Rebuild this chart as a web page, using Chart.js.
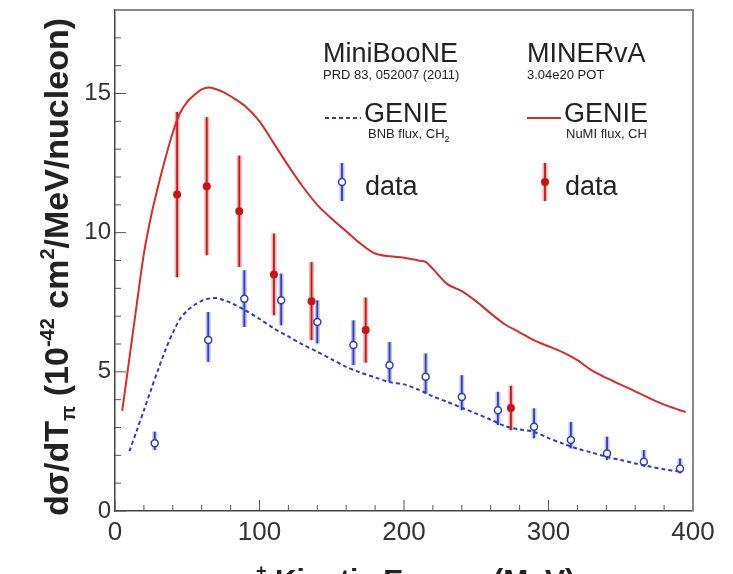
<!DOCTYPE html>
<html>
<head>
<meta charset="utf-8">
<script src="https://cdn.jsdelivr.net/npm/chart.js@4.4.0/dist/chart.umd.min.js"></script>
<style>
  html, body { margin: 0; padding: 0; background: #fff; }
  #wrap { width: 733px; height: 574px; }
</style>
</head>
<body>
<div id="wrap"><canvas id="chart"></canvas></div>
<script>
// GENIE prediction, NuMI flux on CH (MINERvA) - solid red
var minervaGenieE  = [5, 10, 15, 20, 25, 30, 35, 40, 45, 50, 55, 60, 65, 70, 75, 80, 90, 100, 110, 120, 130, 140, 150, 160, 170, 180, 190, 200, 210, 215, 220, 230, 240, 250, 260, 270, 280, 290, 300, 310, 320, 330, 340, 350, 360, 370, 380, 390, 395];
var minervaGenieXs = [3.6, 5.5, 7.4, 9.25, 10.6, 11.7, 12.7, 13.6, 14.3, 14.7, 14.95, 15.15, 15.22, 15.15, 15.05, 14.9, 14.55, 14.0, 13.2, 12.4, 11.65, 11.0, 10.5, 10.05, 9.6, 9.25, 9.15, 9.1, 9.0, 8.95, 8.7, 8.15, 7.9, 7.53, 7.1, 6.7, 6.42, 6.13, 5.92, 5.7, 5.42, 5.05, 4.78, 4.54, 4.3, 4.05, 3.82, 3.64, 3.56];

// GENIE prediction, BNB flux on CH2 (MiniBooNE) - dashed blue
var miniboonGenieE  = [10, 15, 20, 25, 30, 35, 40, 45, 50, 55, 60, 65, 70, 75, 80, 90, 100, 110, 120, 130, 140, 150, 160, 170, 180, 190, 200, 210, 220, 230, 240, 250, 260, 270, 280, 290, 300, 310, 320, 330, 340, 350, 360, 370, 380, 390];
var miniboonGenieXs = [2.15, 2.88, 3.62, 4.37, 5.1, 5.8, 6.4, 6.9, 7.2, 7.4, 7.55, 7.63, 7.65, 7.58, 7.48, 7.22, 6.9, 6.56, 6.27, 5.98, 5.72, 5.45, 5.18, 4.97, 4.8, 4.63, 4.55, 4.36, 4.12, 3.92, 3.71, 3.5, 3.28, 3.05, 2.93, 2.84, 2.62, 2.42, 2.24, 2.1, 1.95, 1.83, 1.71, 1.6, 1.5, 1.42];

// MINERvA data
var minervaE   = [43, 63.5, 86, 110, 136, 173.5, 274];
var minervaXs  = [11.37, 11.67, 10.77, 8.5, 7.54, 6.5, 3.7];
var minervaErr = [2.97, 2.48, 2.0, 1.47, 1.4, 1.17, 0.8];

// MiniBooNE data
var miniboonE     = [27.5, 64.5, 89.5, 115, 140, 165, 190, 215, 240, 265, 290, 315.5, 340.5, 366, 391];
var miniboonXs    = [2.43, 6.14, 7.63, 7.57, 6.79, 5.96, 5.24, 4.82, 4.1, 3.62, 3.03, 2.55, 2.07, 1.77, 1.53];
var miniboonErrUp = [0.42, 1.01, 1.02, 0.96, 0.78, 0.89, 0.83, 0.84, 0.78, 0.66, 0.66, 0.65, 0.6, 0.42, 0.36];
var miniboonErrDn = [0.24, 0.78, 1.02, 0.9, 0.77, 0.72, 0.6, 0.6, 0.48, 0.53, 0.42, 0.3, 0.24, 0.18, 0.18];

var xTicks = [0, 100, 200, 300, 400];
var yTicks = [0, 5, 10, 15];

var FONT = "'Liberation Sans', Arial, Helvetica, sans-serif";
var RED = 'rgb(214,44,44)';
var BLUE = 'rgb(52,60,175)';

function pts(xs, ys) {
    return xs.map(function (x, i) { return { x: x, y: ys[i] }; });
}

// vertical error bar, wide pale band + thin dark core
function errBar(ctx, x, yTop, yBot, band, core) {
    ctx.save();
    ctx.lineCap = 'butt';
    ctx.strokeStyle = band;
    ctx.lineWidth = 5;
    ctx.beginPath(); ctx.moveTo(x, yTop); ctx.lineTo(x, yBot); ctx.stroke();
    ctx.strokeStyle = core;
    ctx.lineWidth = 1.8;
    ctx.beginPath(); ctx.moveTo(x, yTop); ctx.lineTo(x, yBot); ctx.stroke();
    ctx.restore();
}

// draws text pieces one after another, small ones raised/lowered
function richText(ctx, parts, size, weight) {
    var w = 0;
    parts.forEach(function (p) {
        ctx.font = weight + ' ' + Math.round(size * (p.s || 1)) + 'px ' + FONT;
        p.w = ctx.measureText(p.t).width;
        w += p.w;
    });
    return {
        width: w,
        draw: function (x0, y0) {
            var x = x0;
            parts.forEach(function (p) {
                ctx.font = weight + ' ' + Math.round(size * (p.s || 1)) + 'px ' + FONT;
                ctx.fillText(p.t, x, y0 + (p.dy || 0) * size);
                x += p.w;
            });
        }
    };
}

var errorBars = {
    id: 'errorBars',
    beforeDatasetDraw: function (chart, args) {
        var ctx = chart.ctx, sx = chart.scales.x, sy = chart.scales.y;
        ctx.save();
        ctx.beginPath();
        ctx.rect(chart.chartArea.left, chart.chartArea.top, chart.chartArea.width, chart.chartArea.height);
        ctx.clip();
        if (args.index === 2) {
            miniboonE.forEach(function (e, i) {
                errBar(ctx, sx.getPixelForValue(e),
                    sy.getPixelForValue(miniboonXs[i] + miniboonErrUp[i]),
                    sy.getPixelForValue(miniboonXs[i] - miniboonErrDn[i]),
                    'rgba(110,120,235,0.45)', BLUE);
            });
        }
        if (args.index === 3) {
            minervaE.forEach(function (e, i) {
                errBar(ctx, sx.getPixelForValue(e),
                    sy.getPixelForValue(minervaXs[i] + minervaErr[i]),
                    sy.getPixelForValue(minervaXs[i] - minervaErr[i]),
                    'rgba(235,110,110,0.55)', 'rgb(190,25,25)');
            });
        }
        ctx.restore();
    }
};

var frame = {
    id: 'frame',
    beforeDatasetsDraw: function (chart) {
        var ctx = chart.ctx, a = chart.chartArea, sx = chart.scales.x, sy = chart.scales.y;
        ctx.save();
        ctx.strokeStyle = '#555';
        ctx.lineWidth = 1;
        for (var v = 0; v <= 18; v++) {
            var py = sy.getPixelForValue(v), len = v % 5 === 0 ? 11 : 6;
            ctx.beginPath(); ctx.moveTo(a.left, py); ctx.lineTo(a.left + len, py); ctx.stroke();
        }
        for (var e = 0; e <= 400; e += 20) {
            var px = sx.getPixelForValue(e), l2 = e % 100 === 0 ? 11 : 6;
            ctx.beginPath(); ctx.moveTo(px, a.bottom); ctx.lineTo(px, a.bottom - l2); ctx.stroke();
        }
        ctx.strokeStyle = '#888';
        ctx.lineWidth = 2;
        ctx.beginPath();
        ctx.moveTo(a.left, a.top); ctx.lineTo(a.right, a.top); ctx.lineTo(a.right, a.bottom);
        ctx.stroke();
        ctx.restore();
    },
    afterDraw: function (chart) {
        var ctx = chart.ctx, a = chart.chartArea;
        ctx.save();
        ctx.fillStyle = '#222';
        ctx.textBaseline = 'alphabetic';
        ctx.textAlign = 'left';

        // y axis title
        var yt = richText(ctx, [
            { t: 'dσ/dT' }, { t: 'π', s: 0.6, dy: 0.22 }, { t: ' (10' },
            { t: '-42', s: 0.6, dy: -0.42 }, { t: ' cm' }, { t: '2', s: 0.6, dy: -0.42 },
            { t: '/MeV/nucleon)' }
        ], 34, 'bold');
        ctx.save();
        ctx.translate(68, 267);
        ctx.rotate(-Math.PI / 2);
        yt.draw(-yt.width / 2, 0);
        ctx.restore();

        // x axis title (runs off the bottom edge)
        var xt = richText(ctx, [
            { t: 'π' }, { t: '+', s: 0.6, dy: -0.42 }, { t: ' Kinetic Energy (MeV)' }
        ], 30, 'bold');
        xt.draw((a.left + a.right) / 2 - xt.width / 2, 590);

        // legend block
        var big = '27px ' + FONT, small = '13px ' + FONT;
        ctx.font = big;
        ctx.fillText('MiniBooNE', 323, 62);
        ctx.fillText('MINERvA', 527, 62);
        ctx.fillText('GENIE', 364, 122);
        ctx.fillText('GENIE', 564, 122);
        ctx.fillText('data', 365, 195);
        ctx.fillText('data', 565, 195);
        ctx.font = small;
        ctx.fillText('PRD 83, 052007 (2011)', 323, 79);
        ctx.fillText('3.04e20 POT', 527, 79);
        ctx.fillText('NuMI flux, CH', 566, 138);
        var bnb = richText(ctx, [{ t: 'BNB flux, CH' }, { t: '2', s: 0.7, dy: 0.3 }], 13, 'normal');
        bnb.draw(368, 138);

        ctx.lineWidth = 2;
        ctx.strokeStyle = BLUE;
        ctx.setLineDash([4, 3]);
        ctx.beginPath(); ctx.moveTo(325, 118); ctx.lineTo(361, 118); ctx.stroke();
        ctx.setLineDash([]);
        ctx.strokeStyle = RED;
        ctx.beginPath(); ctx.moveTo(527, 118); ctx.lineTo(561, 118); ctx.stroke();

        errBar(ctx, 342, 163, 201, 'rgba(110,120,235,0.45)', BLUE);
        ctx.beginPath(); ctx.arc(342, 182, 3.5, 0, Math.PI * 2);
        ctx.fillStyle = '#fff'; ctx.fill();
        ctx.strokeStyle = BLUE; ctx.lineWidth = 1.5; ctx.stroke();
        errBar(ctx, 545, 163, 201, 'rgba(235,110,110,0.55)', 'rgb(190,25,25)');
        ctx.beginPath(); ctx.arc(545, 182, 4, 0, Math.PI * 2);
        ctx.fillStyle = 'rgb(200,20,20)'; ctx.fill();
        ctx.restore();
    }
};

var chart = new Chart(document.getElementById('chart'), {
    type: 'scatter',
    data: {
        datasets: [
            {
                label: 'GENIE BNB flux, CH2',
                data: pts(miniboonGenieE, miniboonGenieXs),
                showLine: true,
                borderColor: BLUE,
                borderWidth: 2,
                borderDash: [4, 3],
                pointRadius: 0,
                tension: 0.3
            },
            {
                label: 'GENIE NuMI flux, CH',
                data: pts(minervaGenieE, minervaGenieXs),
                showLine: true,
                borderColor: RED,
                borderWidth: 2,
                pointRadius: 0,
                tension: 0.3
            },
            {
                label: 'MiniBooNE data',
                data: pts(miniboonE, miniboonXs),
                pointRadius: 3.5,
                pointBackgroundColor: '#fff',
                pointBorderColor: BLUE,
                pointBorderWidth: 1.5
            },
            {
                label: 'MINERvA data',
                data: pts(minervaE, minervaXs),
                pointRadius: 4,
                pointBackgroundColor: 'rgb(200,20,20)',
                pointBorderWidth: 0
            }
        ]
    },
    options: {
        responsive: true,
        maintainAspectRatio: false,
        animation: false,
        layout: { padding: { left: 0, right: 40, top: 10, bottom: 0 } },
        plugins: { legend: { display: false }, tooltip: { enabled: false } },
        scales: {
            x: {
                type: 'linear',
                min: 0, max: 400,
                afterBuildTicks: function (s) { s.ticks = xTicks.map(function (v) { return { value: v }; }); },
                afterFit: function (s) { s.height = 63; s.paddingLeft = 0; s.paddingRight = 0; },
                ticks: { font: { family: FONT, size: 26 }, color: '#333', padding: 6, maxRotation: 0 },
                grid: { display: false, drawTicks: false },
                border: { display: true, color: '#444', width: 1.5 }
            },
            y: {
                min: 0, max: 18,
                afterBuildTicks: function (s) { s.ticks = yTicks.map(function (v) { return { value: v }; }); },
                afterFit: function (s) { s.width = 115; s.paddingTop = 0; s.paddingBottom = 0; },
                ticks: { font: { family: FONT, size: 24 }, color: '#333', padding: 4 },
                grid: { display: false, drawTicks: false },
                border: { display: true, color: '#444', width: 1.5 }
            }
        }
    },
    plugins: [errorBars, frame]
});
</script>
</body>
</html>
